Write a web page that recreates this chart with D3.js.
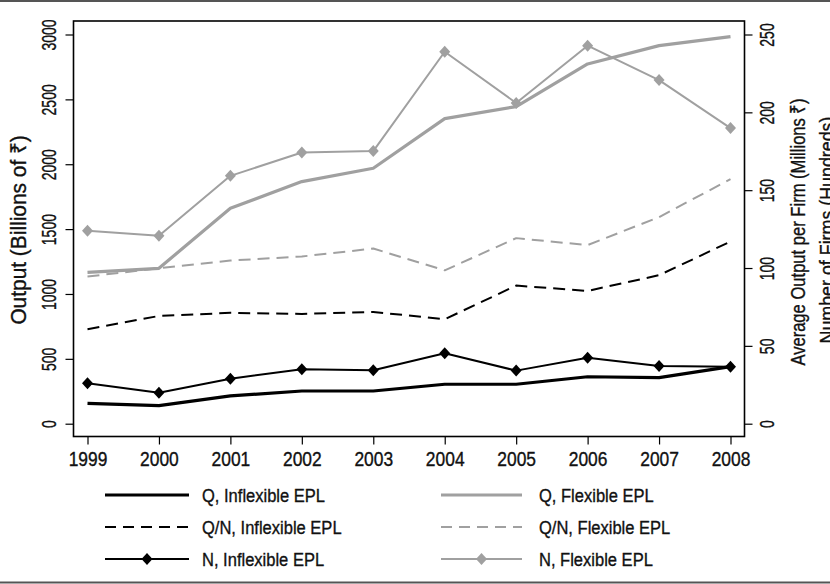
<!DOCTYPE html>
<html>
<head>
<meta charset="utf-8">
<script src="https://cdn.jsdelivr.net/npm/d3@7"></script>
<style>
  html, body { margin: 0; padding: 0; background: #fff; }
  svg { display: block; }
  text { font-family: "Liberation Sans", Arial, sans-serif; fill: #111; stroke: #111; stroke-width: 0.35px; }
</style>
</head>
<body>
<svg id="chart" width="830" height="584"></svg>
<script>
// Years on the x axis
const years = [1999, 2000, 2001, 2002, 2003, 2004, 2005, 2006, 2007, 2008];

// Output, billions of rupees (left axis)
const qInflexible = [157, 139, 214, 252, 252, 304, 304, 362, 355, 440];
const qFlexible   = [1167, 1198, 1661, 1866, 1969, 2352, 2444, 2773, 2914, 2984];

// Average output per firm, millions of rupees (right axis)
const qnInflexible = [60.7, 69.2, 71.2, 70.5, 71.8, 67.1, 88.7, 85.3, 95.4, 117];
const qnFlexible   = [94.5, 99.9, 104.8, 107.4, 112.5, 98.5, 119.2, 114.7, 132.7, 157.1];

// Number of firms, hundreds (right axis)
const nInflexible = [26, 19.9, 28.9, 35, 34.3, 45.3, 34.1, 42.4, 37.1, 36.6];
const nFlexible   = [123.9, 120.7, 159.2, 174.2, 175.1, 238.9, 206, 242.8, 220.7, 189.9];

// Tick values
const leftTicks = [0, 500, 1000, 1500, 2000, 2500, 3000];
const rightTicks = [0, 50, 100, 150, 200, 250];

const legendLabels = [
  "Q, Inflexible EPL", "Q/N, Inflexible EPL", "N, Inflexible EPL",
  "Q, Flexible EPL", "Q/N, Flexible EPL", "N, Flexible EPL"
];

const BLACK = "#000";
const GRAY = "#a0a0a0";

// Condensed lettering: horizontal text and vertical text are squeezed differently
const SQUEEZE_H = 0.87;
const SQUEEZE_V = 0.7;

const svg = d3.select("#chart");

const frame = { left: 73.5, right: 744.5, top: 21, bottom: 436.5 };

const x = d3.scaleLinear().domain([1999, 2008]).range([87.5, 730.5]);
const yL = d3.scaleLinear().domain([0, 3000]).range([423.7, 34.5]);
const yR = d3.scaleLinear().domain([0, 250]).range([423.7, 34.5]);

// Horizontal rules framing the figure
svg.append("line").attr("x1", 0).attr("x2", 830).attr("y1", 1).attr("y2", 1)
  .attr("stroke", "#555").attr("stroke-width", 2);
svg.append("line").attr("x1", 0).attr("x2", 830).attr("y1", 582.5).attr("y2", 582.5)
  .attr("stroke", "#555").attr("stroke-width", 2);

// Plot frame
svg.append("rect")
  .attr("x", frame.left).attr("y", frame.top)
  .attr("width", frame.right - frame.left).attr("height", frame.bottom - frame.top)
  .attr("fill", "none").attr("stroke", "#000").attr("stroke-width", 1.6);

// Left axis
const gL = svg.append("g").attr("transform", `translate(${frame.left},0)`)
  .call(d3.axisLeft(yL).tickValues(leftTicks).tickSize(8).tickFormat(d3.format("d")));
gL.select(".domain").remove();
gL.selectAll(".tick line").attr("stroke", "#000").attr("stroke-width", 1.2);
gL.selectAll(".tick text")
  .attr("transform", `translate(-18,0) rotate(-90) scale(${SQUEEZE_V},1)`)
  .attr("x", 0).attr("y", 0).attr("dy", 0)
  .attr("text-anchor", "middle")
  .style("font-size", "20px");

// Right axis
const gR = svg.append("g").attr("transform", `translate(${frame.right},0)`)
  .call(d3.axisRight(yR).tickValues(rightTicks).tickSize(8).tickFormat(d3.format("d")));
gR.select(".domain").remove();
gR.selectAll(".tick line").attr("stroke", "#000").attr("stroke-width", 1.2);
gR.selectAll(".tick text")
  .attr("transform", `translate(29,0) rotate(-90) scale(${SQUEEZE_V},1)`)
  .attr("x", 0).attr("y", 0).attr("dy", 0)
  .attr("text-anchor", "middle")
  .style("font-size", "20px");

// Bottom axis
const gB = svg.append("g").attr("transform", `translate(0,${frame.bottom})`)
  .call(d3.axisBottom(x).tickValues(years).tickSize(8).tickFormat(d3.format("d")));
gB.select(".domain").remove();
gB.selectAll(".tick line").attr("stroke", "#000").attr("stroke-width", 1.2);
gB.selectAll(".tick text")
  .attr("transform", `translate(0,29) scale(${SQUEEZE_H},1)`)
  .attr("y", 0).attr("dy", 0)
  .style("font-size", "20px");

// Axis titles
function verticalTitle(cx, cy, label, size, squeeze) {
  svg.append("text")
    .attr("transform", `translate(${cx},${cy}) rotate(-90) scale(${squeeze},1)`)
    .attr("text-anchor", "middle")
    .style("font-size", size + "px")
    .text(label);
}
verticalTitle(26, 230, "Output (Billions of ₹)", 22, 0.95);
verticalTitle(805, 232, "Average Output per Firm (Millions ₹)", 21, 0.79);
verticalTitle(834, 230, "Number of Firms (Hundreds)", 21, 0.85);

// Series definitions
const series = [
  { values: qInflexible, scale: yL, color: BLACK, width: 3.2, dash: null, marker: false },
  { values: qnInflexible, scale: yR, color: BLACK, width: 2, dash: "12,7", marker: false },
  { values: nInflexible, scale: yR, color: BLACK, width: 2, dash: null, marker: true },
  { values: qFlexible, scale: yL, color: GRAY, width: 3.2, dash: null, marker: false },
  { values: qnFlexible, scale: yR, color: GRAY, width: 2, dash: "12,7", marker: false },
  { values: nFlexible, scale: yR, color: GRAY, width: 2, dash: null, marker: true }
];

const diamond = "M0,-6L5.5,0L0,6L-5.5,0Z";

const plot = svg.append("g");
// Gray series first, black series on top
const drawOrder = [3, 4, 5, 0, 1, 2];
drawOrder.forEach(i => {
  const s = series[i];
  const line = d3.line()
    .x((d, j) => x(years[j]))
    .y(d => s.scale(d));
  plot.append("path")
    .datum(s.values)
    .attr("d", line)
    .attr("fill", "none")
    .attr("stroke", s.color)
    .attr("stroke-width", s.width)
    .attr("stroke-linejoin", "round")
    .attr("stroke-dasharray", s.dash);
  if (s.marker) {
    plot.selectAll(null)
      .data(s.values)
      .enter().append("path")
      .attr("d", diamond)
      .attr("transform", (d, j) => `translate(${x(years[j])},${s.scale(d)})`)
      .attr("fill", s.color);
  }
});

// Legend: two columns of three rows
const legendRows = [495, 527, 559];
const legendCols = [
  { x1: 105, x2: 189, tx: 202 },
  { x1: 441, x2: 522, tx: 539 }
];
const legend = svg.append("g");
series.forEach((s, i) => {
  const col = legendCols[Math.floor(i / 3)];
  const y = legendRows[i % 3];
  legend.append("line")
    .attr("x1", col.x1).attr("x2", col.x2)
    .attr("y1", y).attr("y2", y)
    .attr("stroke", s.color)
    .attr("stroke-width", s.width)
    .attr("stroke-dasharray", s.dash ? "11,7" : null);
  if (s.marker) {
    legend.append("path")
      .attr("d", diamond)
      .attr("transform", `translate(${(col.x1 + col.x2) / 2},${y})`)
      .attr("fill", s.color);
  }
  legend.append("text")
    .attr("transform", `translate(${col.tx},${y + 7}) scale(${SQUEEZE_H},1)`)
    .style("font-size", "19px")
    .text(legendLabels[i]);
});
</script>
</body>
</html>
